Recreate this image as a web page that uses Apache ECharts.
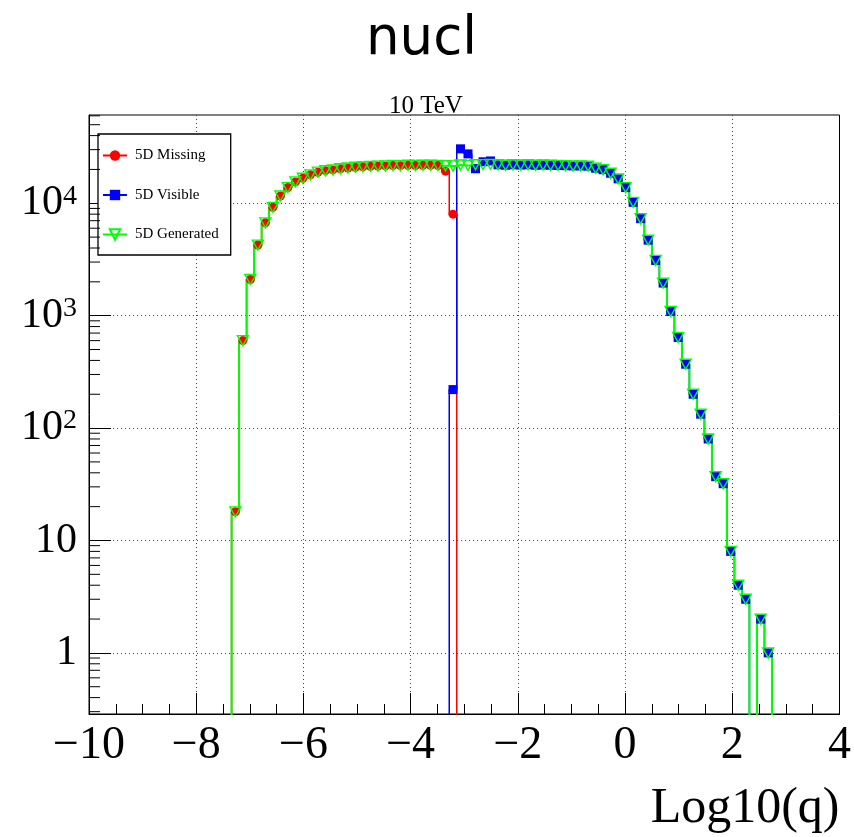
<!DOCTYPE html>
<html><head><meta charset="utf-8">
<script src="https://cdn.jsdelivr.net/npm/echarts@6/dist/echarts.min.js"></script>
<style>html,body{margin:0;padding:0;background:#fff}#c{width:854px;height:837px}</style>
</head><body><div id="c"></div>
<script>
// ---- histogram binning ----
const xMin = -10, xMax = 4, binWidth = 0.14, nBins = 100;
const yMin = 0.286, yMax = 61000;
const xTickValues = [-10, -8, -6, -4, -2, 0, 2, 4];
const yTickValues = [1, 10, 100, 1000, 10000];
const seriesNames = ['5D Missing', '5D Visible', '5D Generated'];

// ---- bin contents (first non-empty bin index, then contents) ----
const missingStart = 19;
const missing = [18, 600, 2100, 4250, 6700, 9200, 11600, 13800, 15500, 16700,
  17900, 18900, 19500, 19800, 20300, 20600, 20900, 21100, 21300, 21400,
  21500, 21700, 21600, 21800, 21700, 21800, 21800, 21700, 19300, 8000];

const visibleStart = 48;
const visible = [220, 30500, 27500, 20300, 23400, 23800, 22000, 21800, 22000, 21900,
  22000, 21800, 21900, 21800, 21700, 21600, 21500, 21500, 21400, 20500,
  19900, 18500, 16500, 13800, 10200, 7300, 4700, 3100, 1950, 1090,
  640, 370, 200, 133, 80, 37, 32, 8, 4, 3,
  0, 2, 1];

const generatedStart = 19;
const generated = [18, 600, 2100, 4250, 6700, 9200, 11600, 13800, 15500, 16700,
  17900, 18900, 19500, 19800, 20300, 20600, 20900, 21100, 21300, 21400,
  21500, 21700, 21600, 21800, 21700, 21800, 21800, 21700, 21600, 21500,
  21900, 21700, 22000, 22100, 22200, 22000, 21800, 22000, 21900, 22000,
  21800, 21900, 21800, 21700, 21600, 21500, 21500, 21400, 20500, 19900,
  18500, 16500, 13800, 10200, 7300, 4700, 3100, 1950, 1090, 640,
  370, 200, 133, 80, 37, 32, 8, 4, 3, 0,
  2, 1];

const FLOOR = 1e-3; // empty bins drawn below the axis (clipped)
function binSeries(start, vals) {
  const out = [];
  for (let k = 0; k < nBins; k++) {
    const c = xMin + binWidth * (k + 0.5);
    const i = k - start;
    const v = (i >= 0 && i < vals.length) ? vals[i] : 0;
    out.push(v > 0 ? [c, v] : { value: [c, FLOOR], symbol: 'none' });
  }
  return out;
}

const yMinorVals = [];
for (let e = -1; e <= 4; e++) for (let m = 2; m <= 9; m++) {
  const v = m * Math.pow(10, e);
  if (v > yMin && v < yMax) yMinorVals.push([xMin, v]);
}

const serif = 'Liberation Serif';
const chart = echarts.init(document.getElementById('c'), null, { renderer: 'canvas' });

function yLabel(v) {
  const e = Math.round(Math.log10(v));
  if (Math.abs(Math.log10(v) - e) > 1e-6) return '';
  if (e === 0) return '{b|1}';
  if (e === 1) return '{b|10}';
  return '{b|10}{s|' + e + '}';
}

chart.setOption({
  animation: false,
  backgroundColor: '#fff',
  title: [
    { text: 'nucl', left: 361, top: 9,
      textStyle: { fontFamily: 'DejaVu Sans', fontSize: 53, fontWeight: 'normal', color: '#000' } },
    { text: '10 TeV', left: 384, top: 89,
      textStyle: { fontFamily: serif, fontSize: 25, fontWeight: 'normal', color: '#000' } }
  ],
  grid: { left: 89, right: 12, top: 115, bottom: 123, show: true, borderColor: '#000', borderWidth: 1 },
  legend: {
    data: seriesNames,
    orient: 'vertical', left: 98, top: 134,
    backgroundColor: '#fff', borderColor: '#000', borderWidth: 1.3, borderRadius: 0,
    padding: [14, 12, 13, 4],
    itemWidth: 24, itemHeight: 13, itemGap: 24.5,
    textStyle: { fontFamily: serif, fontSize: 15, color: '#000', padding: [0, 0, 0, 3] }
  },
  xAxis: {
    type: 'value', min: xMin, max: xMax, interval: 2,
    name: 'Log10(q)', nameLocation: 'end', nameGap: 0,
    nameTextStyle: { fontFamily: serif, fontSize: 50, color: '#000', align: 'right', verticalAlign: 'top', padding: [70, 0, 0, 0] },
    axisLine: { show: true, onZero: false, lineStyle: { color: '#000', width: 1 } },
    axisTick: { show: true, inside: true, length: 21, lineStyle: { color: '#000' } },
    minorTick: { show: true, splitNumber: 4, length: 10, lineStyle: { color: '#000' } },
    axisLabel: { fontFamily: serif, fontSize: 46, color: '#000', margin: 9,
      formatter: v => (v < 0 ? '\u2212' + Math.abs(v) : String(v)) },
    splitLine: { show: true, showMinLine: false, showMaxLine: false, lineStyle: { color: '#444', type: [1, 3], width: 1 } }
  },
  yAxis: {
    type: 'log', logBase: 10, min: yMin, max: yMax,
    axisLine: { show: true, onZero: false, lineStyle: { color: '#000', width: 1 } },
    axisTick: { show: true, inside: true, length: 22, lineStyle: { color: '#000' } },
    axisLabel: {
      showMinLabel: false, showMaxLabel: false, margin: 12, color: '#000',
      formatter: yLabel,
      rich: {
        b: { fontFamily: serif, fontSize: 42, color: '#000', verticalAlign: 'bottom' },
        s: { fontFamily: serif, fontSize: 28, color: '#000', verticalAlign: 'top' }
      }
    },
    splitLine: { show: true, showMinLine: false, showMaxLine: false, lineStyle: { color: '#444', type: [1, 3], width: 1 } }
  },
  series: [
    { name: seriesNames[0], type: 'line', step: 'middle', data: binSeries(missingStart, missing),
      symbol: 'circle', symbolSize: 9, showAllSymbol: true,
      lineStyle: { color: '#ff0000', width: 1.5 }, itemStyle: { color: '#ff0000' } },
    { name: seriesNames[1], type: 'line', step: 'middle', data: binSeries(visibleStart, visible),
      symbol: 'rect', symbolSize: 9, showAllSymbol: true,
      lineStyle: { color: '#0000ff', width: 1.5 }, itemStyle: { color: '#0000ff' } },
    { name: seriesNames[2], type: 'line', step: 'middle', data: binSeries(generatedStart, generated),
      symbol: 'path://M0,0 L20,0 L10,17.3 Z', symbolSize: [11, 10], showAllSymbol: true,
      lineStyle: { color: '#00ff00', width: 2 },
      itemStyle: { color: 'rgba(0,0,0,0)', borderColor: '#00ff00', borderWidth: 1.4 } },
    { type: 'custom', silent: true, z: 5, data: yMinorVals,
      renderItem: (params, api) => {
        const p = api.coord([api.value(0), api.value(1)]);
        return { type: 'line', shape: { x1: p[0], y1: p[1], x2: p[0] + 11, y2: p[1] },
          style: { stroke: '#000', lineWidth: 1 } };
      } }
  ]
});
</script></body></html>
